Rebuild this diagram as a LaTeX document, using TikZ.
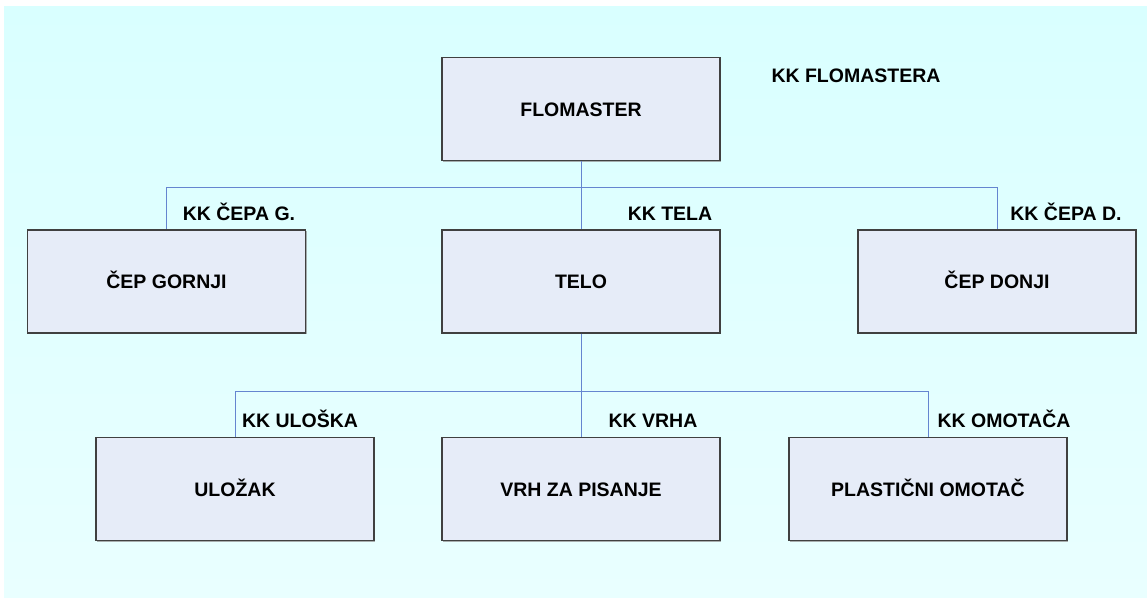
\documentclass[tikz,border=0pt]{standalone}
\usepackage{fontspec}
\setmainfont{Liberation Sans}
\usetikzlibrary{shadows}
\definecolor{bgtop}{HTML}{D9FFFF}
\definecolor{bgbot}{HTML}{E9FFFF}
\definecolor{boxfill}{HTML}{E6ECF8}
\definecolor{boxline}{HTML}{404040}
\definecolor{conn}{HTML}{6585D0}
\tikzset{
  partbox/.style={draw=boxline, line width=1.3pt, fill=boxfill,
    minimum width=278pt, minimum height=103pt, inner sep=0pt,
    font=\fontsize{19.5}{22}\selectfont\bfseries, text height=14pt, text depth=0pt,
    drop shadow={shadow xshift=1pt, shadow yshift=-1pt, fill=black!45, opacity=0.7}},
  kklabel/.style={font=\fontsize{19.5}{22}\selectfont\bfseries, inner sep=0pt,
    text height=14pt, text depth=0pt},
  link/.style={draw=conn, line width=1pt}
}
\begin{document}
\begin{tikzpicture}[x=1pt,y=-1pt]
\useasboundingbox (0,0) rectangle (1147,600);
\fill[white] (0,0) rectangle (1147,600);
\shade[top color=bgtop, bottom color=bgbot] (4,6) rectangle (1147,597);

\node[partbox] (flo) at (581,109) {FLOMASTER};
\node[partbox] (cepg) at (166.5,281.5) {ČEP GORNJI};
\node[partbox] (telo) at (581,281.5) {TELO};
\node[partbox] (cepd) at (997,281.5) {ČEP DONJI};
\node[partbox] (ulo) at (235,489) {ULOŽAK};
\node[partbox] (vrh) at (581,489) {VRH ZA PISANJE};
\node[partbox] (oma) at (928,489) {PLASTIČNI OMOTAČ};

\coordinate (j1) at (581,187);
\coordinate (j2) at (581,391);
\draw[link] (flo.south) -- (j1);
\draw[link] (j1) -| (cepg.north);
\draw[link] (j1) -| (cepd.north);
\draw[link] (j1) -- (telo.north);
\draw[link] (telo.south) -- (j2);
\draw[link] (j2) -| (ulo.north);
\draw[link] (j2) -| (oma.north);
\draw[link] (j2) -- (vrh.north);

\node[kklabel] (lflo) at (856,75) {KK FLOMASTERA};
\node[kklabel] (lcepg) at (239,213) {KK ČEPA G.};
\node[kklabel] (ltelo) at (670,213) {KK TELA};
\node[kklabel] (lcepd) at (1066,213) {KK ČEPA D.};
\node[kklabel] (lulo) at (300,420) {KK ULOŠKA};
\node[kklabel] (lvrh) at (653,420) {KK VRHA};
\node[kklabel] (loma) at (1004,420) {KK OMOTAČA};
\end{tikzpicture}
\end{document}
